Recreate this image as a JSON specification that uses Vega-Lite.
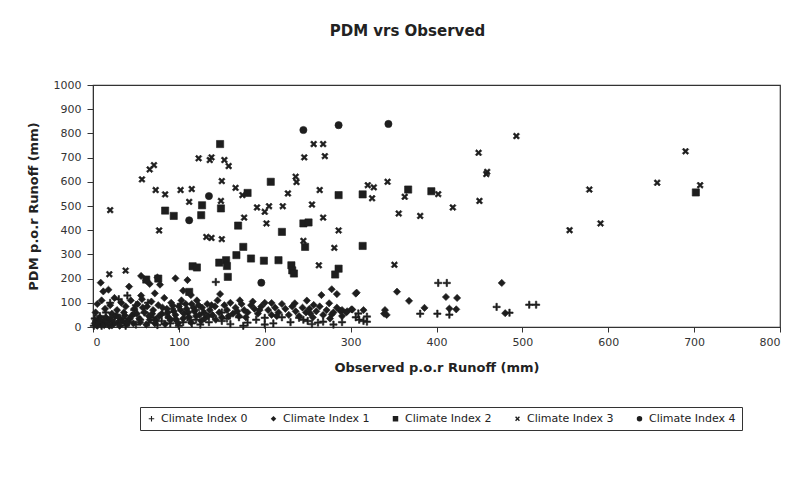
{
  "$schema": "https://vega.github.io/schema/vega-lite/v6.json",
  "width": 687,
  "height": 242,
  "autosize": {"type": "none"},
  "padding": {"left": 93, "top": 85, "right": 18, "bottom": 165},
  "background": "white",
  "title": {"text": "PDM vrs Observed", "font": "DejaVu Sans", "fontSize": 15, "fontWeight": "bold", "color": "#222", "dx": -29, "offset": 40},
  "config": {"view": {"stroke": "#333", "strokeWidth": 1.2}},
  "datasets": {
    "pts": [
      {"x":20,"y":483,"c":"Climate Index 3"},{"x":19,"y":218,"c":"Climate Index 3"},{"x":38,"y":233,"c":"Climate Index 3"},
      {"x":57,"y":610,"c":"Climate Index 3"},{"x":66,"y":651,"c":"Climate Index 3"},{"x":71,"y":669,"c":"Climate Index 3"},
      {"x":73,"y":566,"c":"Climate Index 3"},{"x":84,"y":548,"c":"Climate Index 3"},{"x":77,"y":399,"c":"Climate Index 3"},
      {"x":102,"y":566,"c":"Climate Index 3"},{"x":115,"y":570,"c":"Climate Index 3"},{"x":112,"y":517,"c":"Climate Index 3"},
      {"x":123,"y":697,"c":"Climate Index 3"},{"x":136,"y":690,"c":"Climate Index 3"},{"x":138,"y":701,"c":"Climate Index 3"},
      {"x":153,"y":690,"c":"Climate Index 3"},{"x":158,"y":665,"c":"Climate Index 3"},{"x":150,"y":603,"c":"Climate Index 3"},
      {"x":149,"y":521,"c":"Climate Index 3"},{"x":132,"y":372,"c":"Climate Index 3"},{"x":138,"y":368,"c":"Climate Index 3"},
      {"x":150,"y":363,"c":"Climate Index 3"},{"x":166,"y":575,"c":"Climate Index 3"},{"x":174,"y":545,"c":"Climate Index 3"},
      {"x":176,"y":452,"c":"Climate Index 3"},{"x":191,"y":494,"c":"Climate Index 3"},{"x":200,"y":476,"c":"Climate Index 3"},
      {"x":205,"y":499,"c":"Climate Index 3"},{"x":202,"y":428,"c":"Climate Index 3"},{"x":221,"y":499,"c":"Climate Index 3"},
      {"x":227,"y":552,"c":"Climate Index 3"},{"x":236,"y":621,"c":"Climate Index 3"},{"x":237,"y":599,"c":"Climate Index 3"},
      {"x":246,"y":701,"c":"Climate Index 3"},{"x":257,"y":756,"c":"Climate Index 3"},{"x":268,"y":756,"c":"Climate Index 3"},
      {"x":270,"y":706,"c":"Climate Index 3"},{"x":264,"y":566,"c":"Climate Index 3"},{"x":255,"y":506,"c":"Climate Index 3"},
      {"x":268,"y":452,"c":"Climate Index 3"},{"x":245,"y":356,"c":"Climate Index 3"},{"x":263,"y":255,"c":"Climate Index 3"},
      {"x":281,"y":327,"c":"Climate Index 3"},{"x":286,"y":399,"c":"Climate Index 3"},
      {"x":493,"y":789,"c":"Climate Index 3"},{"x":449,"y":720,"c":"Climate Index 3"},{"x":458,"y":632,"c":"Climate Index 3"},
      {"x":459,"y":641,"c":"Climate Index 3"},{"x":320,"y":586,"c":"Climate Index 3"},{"x":327,"y":577,"c":"Climate Index 3"},
      {"x":325,"y":532,"c":"Climate Index 3"},{"x":343,"y":600,"c":"Climate Index 3"},{"x":363,"y":538,"c":"Climate Index 3"},
      {"x":402,"y":549,"c":"Climate Index 3"},{"x":356,"y":469,"c":"Climate Index 3"},{"x":381,"y":459,"c":"Climate Index 3"},
      {"x":419,"y":494,"c":"Climate Index 3"},{"x":450,"y":521,"c":"Climate Index 3"},{"x":351,"y":257,"c":"Climate Index 3"},
      {"x":578,"y":568,"c":"Climate Index 3"},{"x":555,"y":400,"c":"Climate Index 3"},{"x":591,"y":428,"c":"Climate Index 3"},
      {"x":690,"y":726,"c":"Climate Index 3"},{"x":657,"y":596,"c":"Climate Index 3"},{"x":707,"y":586,"c":"Climate Index 3"},

      {"x":148,"y":756,"c":"Climate Index 2"},{"x":207,"y":600,"c":"Climate Index 2"},{"x":180,"y":554,"c":"Climate Index 2"},
      {"x":127,"y":503,"c":"Climate Index 2"},{"x":84,"y":481,"c":"Climate Index 2"},{"x":94,"y":459,"c":"Climate Index 2"},
      {"x":126,"y":462,"c":"Climate Index 2"},{"x":149,"y":490,"c":"Climate Index 2"},{"x":169,"y":419,"c":"Climate Index 2"},
      {"x":175,"y":331,"c":"Climate Index 2"},{"x":167,"y":297,"c":"Climate Index 2"},{"x":184,"y":283,"c":"Climate Index 2"},
      {"x":199,"y":274,"c":"Climate Index 2"},{"x":216,"y":276,"c":"Climate Index 2"},{"x":220,"y":393,"c":"Climate Index 2"},
      {"x":245,"y":428,"c":"Climate Index 2"},{"x":251,"y":432,"c":"Climate Index 2"},{"x":247,"y":331,"c":"Climate Index 2"},
      {"x":286,"y":545,"c":"Climate Index 2"},{"x":286,"y":241,"c":"Climate Index 2"},{"x":282,"y":217,"c":"Climate Index 2"},
      {"x":147,"y":266,"c":"Climate Index 2"},{"x":155,"y":276,"c":"Climate Index 2"},{"x":156,"y":252,"c":"Climate Index 2"},
      {"x":157,"y":207,"c":"Climate Index 2"},{"x":116,"y":251,"c":"Climate Index 2"},{"x":121,"y":246,"c":"Climate Index 2"},
      {"x":231,"y":255,"c":"Climate Index 2"},{"x":232,"y":234,"c":"Climate Index 2"},{"x":234,"y":221,"c":"Climate Index 2"},
      {"x":112,"y":145,"c":"Climate Index 2"},{"x":76,"y":200,"c":"Climate Index 2"},{"x":62,"y":196,"c":"Climate Index 2"},
      {"x":314,"y":548,"c":"Climate Index 2"},{"x":367,"y":568,"c":"Climate Index 2"},{"x":394,"y":561,"c":"Climate Index 2"},
      {"x":314,"y":335,"c":"Climate Index 2"},{"x":702,"y":556,"c":"Climate Index 2"},

      {"x":245,"y":814,"c":"Climate Index 4"},{"x":286,"y":834,"c":"Climate Index 4"},{"x":344,"y":839,"c":"Climate Index 4"},
      {"x":135,"y":541,"c":"Climate Index 4"},{"x":112,"y":441,"c":"Climate Index 4"},{"x":196,"y":183,"c":"Climate Index 4"},

      {"x":9,"y":183,"c":"Climate Index 1"},{"x":12,"y":147,"c":"Climate Index 1"},{"x":18,"y":154,"c":"Climate Index 1"},
      {"x":42,"y":167,"c":"Climate Index 1"},{"x":56,"y":211,"c":"Climate Index 1"},{"x":62,"y":192,"c":"Climate Index 1"},
      {"x":66,"y":178,"c":"Climate Index 1"},{"x":75,"y":205,"c":"Climate Index 1"},{"x":78,"y":175,"c":"Climate Index 1"},
      {"x":96,"y":201,"c":"Climate Index 1"},{"x":110,"y":194,"c":"Climate Index 1"},{"x":105,"y":150,"c":"Climate Index 1"},
      {"x":114,"y":132,"c":"Climate Index 1"},{"x":72,"y":139,"c":"Climate Index 1"},{"x":56,"y":130,"c":"Climate Index 1"},
      {"x":148,"y":136,"c":"Climate Index 1"},{"x":171,"y":110,"c":"Climate Index 1"},{"x":208,"y":99,"c":"Climate Index 1"},
      {"x":278,"y":156,"c":"Climate Index 1"},{"x":284,"y":136,"c":"Climate Index 1"},{"x":266,"y":132,"c":"Climate Index 1"},
      {"x":307,"y":142,"c":"Climate Index 1"},{"x":354,"y":146,"c":"Climate Index 1"},{"x":306,"y":138,"c":"Climate Index 1"},
      {"x":368,"y":108,"c":"Climate Index 1"},{"x":411,"y":124,"c":"Climate Index 1"},{"x":424,"y":120,"c":"Climate Index 1"},
      {"x":476,"y":182,"c":"Climate Index 1"},
      {"x":249,"y":109,"c":"Climate Index 1"},{"x":257,"y":91,"c":"Climate Index 1"},{"x":275,"y":98,"c":"Climate Index 1"},
      {"x":235,"y":98,"c":"Climate Index 1"},{"x":253,"y":56,"c":"Climate Index 1"},{"x":278,"y":52,"c":"Climate Index 1"},
      {"x":288,"y":67,"c":"Climate Index 1"},{"x":301,"y":73,"c":"Climate Index 1"},{"x":315,"y":70,"c":"Climate Index 1"},
      {"x":340,"y":70,"c":"Climate Index 1"},{"x":342,"y":50,"c":"Climate Index 1"},{"x":386,"y":79,"c":"Climate Index 1"},
      {"x":415,"y":76,"c":"Climate Index 1"},{"x":423,"y":73,"c":"Climate Index 1"},{"x":480,"y":57,"c":"Climate Index 1"},
      {"x":339,"y":55,"c":"Climate Index 1"},{"x":290,"y":70,"c":"Climate Index 1"},{"x":296,"y":65,"c":"Climate Index 1"},
      {"x":302,"y":72,"c":"Climate Index 1"},
      {"x":3,"y":60,"c":"Climate Index 1"},{"x":5,"y":95,"c":"Climate Index 1"},{"x":8,"y":40,"c":"Climate Index 1"},
      {"x":10,"y":110,"c":"Climate Index 1"},{"x":14,"y":75,"c":"Climate Index 1"},{"x":16,"y":30,"c":"Climate Index 1"},
      {"x":20,"y":90,"c":"Climate Index 1"},{"x":22,"y":55,"c":"Climate Index 1"},{"x":25,"y":120,"c":"Climate Index 1"},
      {"x":28,"y":70,"c":"Climate Index 1"},{"x":30,"y":40,"c":"Climate Index 1"},{"x":33,"y":100,"c":"Climate Index 1"},
      {"x":36,"y":60,"c":"Climate Index 1"},{"x":38,"y":85,"c":"Climate Index 1"},{"x":40,"y":25,"c":"Climate Index 1"},
      {"x":44,"y":110,"c":"Climate Index 1"},{"x":46,"y":50,"c":"Climate Index 1"},{"x":48,"y":75,"c":"Climate Index 1"},
      {"x":52,"y":95,"c":"Climate Index 1"},{"x":54,"y":35,"c":"Climate Index 1"},{"x":57,"y":115,"c":"Climate Index 1"},
      {"x":60,"y":60,"c":"Climate Index 1"},{"x":63,"y":85,"c":"Climate Index 1"},{"x":65,"y":45,"c":"Climate Index 1"},
      {"x":68,"y":105,"c":"Climate Index 1"},{"x":70,"y":70,"c":"Climate Index 1"},{"x":73,"y":30,"c":"Climate Index 1"},
      {"x":76,"y":90,"c":"Climate Index 1"},{"x":80,"y":55,"c":"Climate Index 1"},{"x":83,"y":120,"c":"Climate Index 1"},
      {"x":86,"y":75,"c":"Climate Index 1"},{"x":88,"y":40,"c":"Climate Index 1"},{"x":91,"y":100,"c":"Climate Index 1"},
      {"x":94,"y":65,"c":"Climate Index 1"},{"x":97,"y":30,"c":"Climate Index 1"},{"x":100,"y":85,"c":"Climate Index 1"},
      {"x":103,"y":110,"c":"Climate Index 1"},{"x":106,"y":55,"c":"Climate Index 1"},{"x":109,"y":75,"c":"Climate Index 1"},
      {"x":112,"y":40,"c":"Climate Index 1"},{"x":115,"y":95,"c":"Climate Index 1"},{"x":118,"y":65,"c":"Climate Index 1"},
      {"x":121,"y":110,"c":"Climate Index 1"},{"x":124,"y":50,"c":"Climate Index 1"},{"x":127,"y":80,"c":"Climate Index 1"},
      {"x":130,"y":35,"c":"Climate Index 1"},{"x":133,"y":95,"c":"Climate Index 1"},{"x":136,"y":70,"c":"Climate Index 1"},
      {"x":139,"y":50,"c":"Climate Index 1"},{"x":142,"y":85,"c":"Climate Index 1"},{"x":145,"y":110,"c":"Climate Index 1"},
      {"x":147,"y":60,"c":"Climate Index 1"},{"x":150,"y":40,"c":"Climate Index 1"},{"x":153,"y":90,"c":"Climate Index 1"},
      {"x":156,"y":70,"c":"Climate Index 1"},{"x":160,"y":100,"c":"Climate Index 1"},{"x":163,"y":55,"c":"Climate Index 1"},
      {"x":166,"y":80,"c":"Climate Index 1"},{"x":170,"y":45,"c":"Climate Index 1"},{"x":173,"y":95,"c":"Climate Index 1"},
      {"x":176,"y":70,"c":"Climate Index 1"},{"x":180,"y":60,"c":"Climate Index 1"},{"x":184,"y":90,"c":"Climate Index 1"},
      {"x":188,"y":75,"c":"Climate Index 1"},{"x":192,"y":55,"c":"Climate Index 1"},{"x":196,"y":85,"c":"Climate Index 1"},
      {"x":200,"y":100,"c":"Climate Index 1"},{"x":204,"y":70,"c":"Climate Index 1"},{"x":208,"y":50,"c":"Climate Index 1"},
      {"x":212,"y":80,"c":"Climate Index 1"},{"x":216,"y":60,"c":"Climate Index 1"},{"x":220,"y":95,"c":"Climate Index 1"},
      {"x":224,"y":75,"c":"Climate Index 1"},{"x":228,"y":50,"c":"Climate Index 1"},{"x":232,"y":85,"c":"Climate Index 1"},
      {"x":236,"y":65,"c":"Climate Index 1"},{"x":240,"y":45,"c":"Climate Index 1"},{"x":244,"y":80,"c":"Climate Index 1"},
      {"x":248,"y":60,"c":"Climate Index 1"},{"x":252,"y":75,"c":"Climate Index 1"},{"x":256,"y":40,"c":"Climate Index 1"},
      {"x":260,"y":65,"c":"Climate Index 1"},{"x":264,"y":85,"c":"Climate Index 1"},{"x":268,"y":50,"c":"Climate Index 1"},
      {"x":272,"y":70,"c":"Climate Index 1"},{"x":276,"y":35,"c":"Climate Index 1"},{"x":280,"y":60,"c":"Climate Index 1"},
      {"x":284,"y":80,"c":"Climate Index 1"},{"x":290,"y":45,"c":"Climate Index 1"},{"x":295,"y":60,"c":"Climate Index 1"},
      {"x":2,"y":15,"c":"Climate Index 1"},{"x":3,"y":25,"c":"Climate Index 1"},{"x":5,"y":5,"c":"Climate Index 1"},
      {"x":7,"y":30,"c":"Climate Index 1"},{"x":9,"y":12,"c":"Climate Index 1"},{"x":11,"y":20,"c":"Climate Index 1"},
      {"x":13,"y":8,"c":"Climate Index 1"},{"x":15,"y":40,"c":"Climate Index 1"},{"x":17,"y":22,"c":"Climate Index 1"},
      {"x":19,"y":5,"c":"Climate Index 1"},{"x":21,"y":30,"c":"Climate Index 1"},{"x":24,"y":12,"c":"Climate Index 1"},
      {"x":26,"y":45,"c":"Climate Index 1"},{"x":29,"y":18,"c":"Climate Index 1"},{"x":31,"y":5,"c":"Climate Index 1"},
      {"x":34,"y":25,"c":"Climate Index 1"},{"x":37,"y":48,"c":"Climate Index 1"},{"x":39,"y":12,"c":"Climate Index 1"},
      {"x":43,"y":35,"c":"Climate Index 1"},{"x":47,"y":15,"c":"Climate Index 1"},{"x":51,"y":55,"c":"Climate Index 1"},
      {"x":55,"y":20,"c":"Climate Index 1"},{"x":58,"y":80,"c":"Climate Index 1"},{"x":62,"y":10,"c":"Climate Index 1"},
      {"x":66,"y":30,"c":"Climate Index 1"},{"x":69,"y":55,"c":"Climate Index 1"},{"x":72,"y":15,"c":"Climate Index 1"},
      {"x":77,"y":45,"c":"Climate Index 1"},{"x":81,"y":80,"c":"Climate Index 1"},{"x":84,"y":12,"c":"Climate Index 1"},
      {"x":87,"y":60,"c":"Climate Index 1"},{"x":90,"y":28,"c":"Climate Index 1"},{"x":93,"y":88,"c":"Climate Index 1"},
      {"x":96,"y":50,"c":"Climate Index 1"},{"x":99,"y":15,"c":"Climate Index 1"},{"x":102,"y":70,"c":"Climate Index 1"},
      {"x":105,"y":35,"c":"Climate Index 1"},{"x":108,"y":95,"c":"Climate Index 1"},{"x":111,"y":60,"c":"Climate Index 1"},
      {"x":114,"y":20,"c":"Climate Index 1"},{"x":117,"y":80,"c":"Climate Index 1"},{"x":120,"y":45,"c":"Climate Index 1"},
      {"x":123,"y":90,"c":"Climate Index 1"},{"x":126,"y":25,"c":"Climate Index 1"},{"x":129,"y":60,"c":"Climate Index 1"},
      {"x":134,"y":45,"c":"Climate Index 1"},{"x":138,"y":90,"c":"Climate Index 1"},{"x":143,"y":30,"c":"Climate Index 1"},
      {"x":158,"y":45,"c":"Climate Index 1"},{"x":168,"y":65,"c":"Climate Index 1"},{"x":178,"y":40,"c":"Climate Index 1"},
      {"x":186,"y":105,"c":"Climate Index 1"},{"x":194,"y":70,"c":"Climate Index 1"},{"x":214,"y":45,"c":"Climate Index 1"},

      {"x":143,"y":186,"c":"Climate Index 0"},{"x":402,"y":182,"c":"Climate Index 0"},{"x":412,"y":182,"c":"Climate Index 0"},
      {"x":470,"y":83,"c":"Climate Index 0"},{"x":508,"y":92,"c":"Climate Index 0"},{"x":516,"y":92,"c":"Climate Index 0"},
      {"x":485,"y":59,"c":"Climate Index 0"},{"x":401,"y":55,"c":"Climate Index 0"},{"x":381,"y":55,"c":"Climate Index 0"},
      {"x":415,"y":51,"c":"Climate Index 0"},{"x":306,"y":40,"c":"Climate Index 0"},{"x":310,"y":30,"c":"Climate Index 0"},
      {"x":315,"y":25,"c":"Climate Index 0"},{"x":319,"y":43,"c":"Climate Index 0"},{"x":319,"y":22,"c":"Climate Index 0"},
      {"x":309,"y":56,"c":"Climate Index 0"},{"x":268,"y":22,"c":"Climate Index 0"},{"x":262,"y":18,"c":"Climate Index 0"},
      {"x":240,"y":38,"c":"Climate Index 0"},{"x":230,"y":20,"c":"Climate Index 0"},{"x":210,"y":15,"c":"Climate Index 0"},
      {"x":200,"y":10,"c":"Climate Index 0"},{"x":190,"y":30,"c":"Climate Index 0"},{"x":180,"y":18,"c":"Climate Index 0"},
      {"x":170,"y":40,"c":"Climate Index 0"},{"x":160,"y":12,"c":"Climate Index 0"},{"x":156,"y":35,"c":"Climate Index 0"},
      {"x":150,"y":25,"c":"Climate Index 0"},{"x":140,"y":45,"c":"Climate Index 0"},{"x":135,"y":20,"c":"Climate Index 0"},
      {"x":130,"y":55,"c":"Climate Index 0"},{"x":125,"y":10,"c":"Climate Index 0"},{"x":120,"y":30,"c":"Climate Index 0"},
      {"x":115,"y":15,"c":"Climate Index 0"},{"x":110,"y":40,"c":"Climate Index 0"},{"x":105,"y":20,"c":"Climate Index 0"},
      {"x":100,"y":5,"c":"Climate Index 0"},{"x":95,"y":35,"c":"Climate Index 0"},{"x":90,"y":15,"c":"Climate Index 0"},
      {"x":85,"y":50,"c":"Climate Index 0"},{"x":80,"y":25,"c":"Climate Index 0"},{"x":75,"y":8,"c":"Climate Index 0"},
      {"x":70,"y":40,"c":"Climate Index 0"},{"x":65,"y":18,"c":"Climate Index 0"},{"x":60,"y":60,"c":"Climate Index 0"},
      {"x":55,"y":30,"c":"Climate Index 0"},{"x":50,"y":10,"c":"Climate Index 0"},{"x":45,"y":45,"c":"Climate Index 0"},
      {"x":42,"y":20,"c":"Climate Index 0"},{"x":38,"y":5,"c":"Climate Index 0"},{"x":35,"y":35,"c":"Climate Index 0"},
      {"x":32,"y":15,"c":"Climate Index 0"},{"x":28,"y":50,"c":"Climate Index 0"},{"x":25,"y":25,"c":"Climate Index 0"},
      {"x":22,"y":8,"c":"Climate Index 0"},{"x":20,"y":40,"c":"Climate Index 0"},{"x":18,"y":15,"c":"Climate Index 0"},
      {"x":15,"y":60,"c":"Climate Index 0"},{"x":12,"y":30,"c":"Climate Index 0"},{"x":10,"y":5,"c":"Climate Index 0"},
      {"x":8,"y":45,"c":"Climate Index 0"},{"x":6,"y":20,"c":"Climate Index 0"},{"x":4,"y":10,"c":"Climate Index 0"},
      {"x":2,"y":35,"c":"Climate Index 0"},{"x":1,"y":5,"c":"Climate Index 0"},{"x":30,"y":115,"c":"Climate Index 0"},
      {"x":40,"y":130,"c":"Climate Index 0"},{"x":50,"y":90,"c":"Climate Index 0"},{"x":64,"y":100,"c":"Climate Index 0"},
      {"x":102,"y":95,"c":"Climate Index 0"},{"x":150,"y":60,"c":"Climate Index 0"},{"x":245,"y":30,"c":"Climate Index 0"},
      {"x":255,"y":12,"c":"Climate Index 0"},{"x":280,"y":10,"c":"Climate Index 0"},{"x":290,"y":20,"c":"Climate Index 0"},
      {"x":250,"y":25,"c":"Climate Index 0"},{"x":200,"y":38,"c":"Climate Index 0"},{"x":175,"y":5,"c":"Climate Index 0"},
      {"x":220,"y":40,"c":"Climate Index 0"},{"x":120,"y":70,"c":"Climate Index 0"},{"x":92,"y":75,"c":"Climate Index 0"},
      {"x":48,"y":70,"c":"Climate Index 0"},{"x":20,"y":100,"c":"Climate Index 0"}
    ]
  },
  "data": {"name": "pts"},
  "mark": {"type": "point", "filled": true, "color": "#1e1e1e", "stroke": "#1e1e1e", "strokeWidth": 0.6, "size": 52, "opacity": 1},
  "encoding": {
    "x": {"field": "x", "type": "quantitative",
      "scale": {"domain": [0, 800], "nice": false, "zero": true},
      "axis": {"values": [0,100,200,300,400,500,600,700,800], "grid": false, "title": "Observed p.o.r Runoff (mm)",
        "titleFont": "DejaVu Sans", "titleFontSize": 13, "titleFontWeight": "bold", "titleColor": "#222", "titlePadding": 14,
        "labelFont": "DejaVu Sans", "labelFontSize": 11, "labelColor": "#333", "labelPadding": 4,
        "domainColor": "#333", "tickColor": "#333", "tickSize": 5}},
    "y": {"field": "y", "type": "quantitative",
      "scale": {"domain": [0, 1000], "nice": false},
      "axis": {"values": [0,100,200,300,400,500,600,700,800,900,1000], "format": "d", "grid": false, "title": "PDM p.o.r Runoff (mm)",
        "titleFont": "DejaVu Sans", "titleFontSize": 13, "titleFontWeight": "bold", "titleColor": "#222", "titlePadding": 13,
        "labelFont": "DejaVu Sans", "labelFontSize": 11, "labelColor": "#333", "labelPadding": 6,
        "domainColor": "#333", "tickColor": "#333", "tickSize": 6}},
    "shape": {"field": "c", "type": "nominal",
      "scale": {"domain": ["Climate Index 0","Climate Index 1","Climate Index 2","Climate Index 3","Climate Index 4"],
        "range": ["M-1,-0.2H-0.2V-1H0.2V-0.2H1V0.2H0.2V1H-0.2V0.2H-1Z", "diamond", "square", "M-0.52,-0.89L0,-0.37L0.52,-0.89L0.89,-0.52L0.37,0L0.89,0.52L0.52,0.89L0,0.37L-0.52,0.89L-0.89,0.52L-0.37,0L-0.89,-0.52Z", "circle"]},
      "legend": {"title": null, "orient": "none", "legendX": 47, "legendY": 322, "direction": "horizontal",
        "strokeColor": "#333", "padding": 6, "labelFont": "DejaVu Sans", "labelFontSize": 11, "labelColor": "#222",
        "symbolSize": 30, "symbolFillColor": "#1e1e1e", "symbolStrokeColor": "#1e1e1e", "symbolStrokeWidth": 0.5,
        "columnPadding": 20, "labelOffset": 4}}
  }
}
